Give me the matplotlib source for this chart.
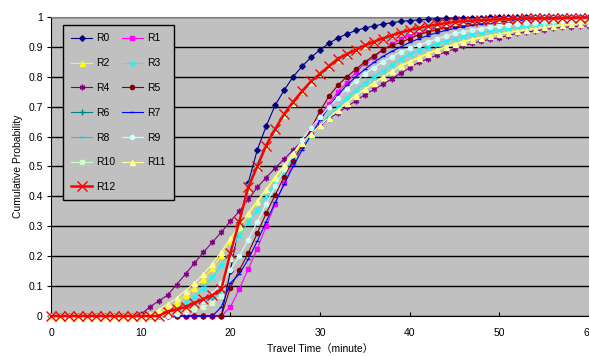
import matplotlib
matplotlib.use("Agg")
import matplotlib.pyplot as plt

plt.rcParams['font.family'] = ['Liberation Sans', 'Noto Sans CJK SC', 'DejaVu Sans']

# travel time in minutes (x axis)
minutes = list(range(61))

# cumulative probability of each route at each minute
r0 = [0, 0, 0, 0, 0, 0, 0, 0, 0, 0,
      0, 0, 0, 0, 0, 0, 0, 0, 0, 0,
      0.15, 0.31, 0.445, 0.555, 0.635, 0.705, 0.755, 0.80, 0.835, 0.865,
      0.89, 0.912, 0.93, 0.943, 0.955, 0.963, 0.97, 0.976, 0.981, 0.985,
      0.988, 0.99, 0.992, 0.994, 0.995, 0.996, 0.997, 0.998, 0.998, 0.999,
      0.999, 1, 1, 1, 1, 1, 1, 1, 1, 1,
      1]
r1 = [0, 0, 0, 0, 0, 0, 0, 0, 0, 0,
      0, 0, 0, 0, 0, 0, 0, 0, 0, 0,
      0.03, 0.09, 0.157, 0.225, 0.30, 0.375, 0.445, 0.51, 0.565, 0.625,
      0.67, 0.71, 0.75, 0.78, 0.815, 0.845, 0.865, 0.89, 0.91, 0.925,
      0.94, 0.95, 0.96, 0.967, 0.973, 0.978, 0.982, 0.985, 0.988, 0.99,
      0.992, 0.993, 0.994, 0.995, 0.996, 0.996, 0.997, 0.997, 0.998, 0.998,
      0.998]
r2 = [0, 0, 0, 0, 0, 0, 0, 0, 0, 0,
      0, 0, 0.01, 0.025, 0.045, 0.07, 0.095, 0.125, 0.16, 0.205,
      0.25, 0.295, 0.34, 0.38, 0.42, 0.46, 0.50, 0.54, 0.575, 0.61,
      0.64, 0.665, 0.69, 0.715, 0.74, 0.76, 0.78, 0.80, 0.82, 0.84,
      0.852, 0.866, 0.879, 0.891, 0.901, 0.911, 0.919, 0.926, 0.933, 0.939,
      0.945, 0.95, 0.955, 0.959, 0.963, 0.967, 0.971, 0.974, 0.977, 0.98,
      0.983]
r3 = [0, 0, 0, 0, 0, 0, 0, 0, 0, 0,
      0, 0, 0, 0.01, 0.025, 0.045, 0.065, 0.095, 0.13, 0.17,
      0.22, 0.27, 0.315, 0.355, 0.40, 0.44, 0.485, 0.525, 0.565, 0.605,
      0.64, 0.67, 0.70, 0.73, 0.755, 0.78, 0.80, 0.82, 0.84, 0.86,
      0.875, 0.888, 0.90, 0.91, 0.92, 0.928, 0.935, 0.942, 0.948, 0.953,
      0.958, 0.962, 0.966, 0.97, 0.973, 0.976, 0.979, 0.981, 0.983, 0.985,
      0.987]
r4 = [0, 0, 0, 0, 0, 0, 0, 0, 0, 0,
      0.005, 0.03, 0.05, 0.07, 0.105, 0.14, 0.177, 0.213, 0.247, 0.28,
      0.317, 0.35, 0.39, 0.43, 0.463, 0.495, 0.525, 0.555, 0.585, 0.613,
      0.638, 0.66, 0.68, 0.70, 0.72, 0.74, 0.758, 0.775, 0.793, 0.812,
      0.83, 0.848, 0.86, 0.872, 0.883, 0.893, 0.903, 0.912, 0.92, 0.925,
      0.931, 0.938, 0.945, 0.949, 0.953, 0.958, 0.962, 0.965, 0.967, 0.969,
      0.97]
r5 = [0, 0, 0, 0, 0, 0, 0, 0, 0, 0,
      0, 0, 0, 0, 0, 0, 0, 0, 0, 0,
      0.095, 0.153, 0.21, 0.277, 0.343, 0.405, 0.465, 0.52, 0.57, 0.627,
      0.685, 0.735, 0.772, 0.80, 0.825, 0.85, 0.87, 0.89, 0.905, 0.915,
      0.928, 0.94, 0.95, 0.958, 0.965, 0.971, 0.976, 0.98, 0.983, 0.986,
      0.988, 0.99, 0.991, 0.992, 0.993, 0.994, 0.995, 0.995, 0.996, 0.996,
      0.997]
r6 = [0, 0, 0, 0, 0, 0, 0, 0, 0, 0,
      0, 0, 0, 0.01, 0.02, 0.03, 0.04, 0.052, 0.065, 0.085,
      0.20, 0.31, 0.425, 0.50, 0.568, 0.622, 0.672, 0.713, 0.75, 0.783,
      0.808, 0.834, 0.858, 0.874, 0.888, 0.903, 0.915, 0.926, 0.936, 0.946,
      0.954, 0.961, 0.967, 0.973, 0.977, 0.981, 0.984, 0.986, 0.988, 0.989,
      0.99, 0.991, 0.992, 0.993, 0.994, 0.995, 0.995, 0.996, 0.996, 0.997,
      0.997]
r7 = [0, 0, 0, 0, 0, 0, 0, 0, 0, 0,
      0, 0, 0, 0, 0, 0, 0, 0, 0, 0.03,
      0.11, 0.14, 0.19, 0.25, 0.315, 0.38, 0.44, 0.50, 0.555, 0.605,
      0.655, 0.70, 0.74, 0.772, 0.80, 0.825, 0.848, 0.868, 0.885, 0.90,
      0.915, 0.927, 0.938, 0.947, 0.955, 0.962, 0.968, 0.973, 0.977, 0.981,
      0.984, 0.986, 0.988, 0.99, 0.991, 0.992, 0.993, 0.994, 0.995, 0.995,
      0.996]
r8 = [0, 0, 0, 0, 0, 0, 0, 0, 0, 0,
      0, 0, 0, 0.01, 0.02, 0.03, 0.04, 0.05, 0.06, 0.08,
      0.20, 0.31, 0.44, 0.51, 0.575, 0.625, 0.672, 0.712, 0.748, 0.78,
      0.805, 0.83, 0.853, 0.87, 0.885, 0.90, 0.912, 0.923, 0.933, 0.943,
      0.951, 0.958, 0.964, 0.97, 0.975, 0.979, 0.982, 0.985, 0.987, 0.988,
      0.99, 0.991, 0.992, 0.993, 0.994, 0.994, 0.995, 0.995, 0.996, 0.996,
      0.997]
r9 = [0, 0, 0, 0, 0, 0, 0, 0, 0, 0,
      0, 0, 0, 0, 0.005, 0.015, 0.03, 0.05, 0.075, 0.11,
      0.155, 0.20, 0.255, 0.315, 0.375, 0.435, 0.49, 0.54, 0.59, 0.63,
      0.665, 0.70, 0.73, 0.76, 0.785, 0.81, 0.83, 0.85, 0.867, 0.883,
      0.895, 0.906, 0.916, 0.926, 0.936, 0.945, 0.951, 0.956, 0.961, 0.966,
      0.97, 0.973, 0.976, 0.979, 0.981, 0.983, 0.985, 0.987, 0.988, 0.989,
      0.99]
r10 = [0, 0, 0, 0, 0, 0, 0, 0, 0, 0,
       0, 0, 0, 0.005, 0.01, 0.02, 0.025, 0.03, 0.045, 0.067,
       0.19, 0.30, 0.42, 0.495, 0.565, 0.62, 0.67, 0.71, 0.748, 0.78,
       0.808, 0.833, 0.857, 0.874, 0.889, 0.903, 0.915, 0.926, 0.936, 0.946,
       0.954, 0.961, 0.967, 0.973, 0.977, 0.981, 0.984, 0.987, 0.989, 0.99,
       0.991, 0.992, 0.993, 0.994, 0.995, 0.995, 0.996, 0.996, 0.997, 0.997,
       0.998]
r11 = [0, 0, 0, 0, 0, 0, 0, 0, 0, 0,
       0, 0.005, 0.02, 0.04, 0.06, 0.085, 0.11, 0.14, 0.175, 0.215,
       0.26, 0.30, 0.345, 0.385, 0.425, 0.465, 0.505, 0.545, 0.58, 0.61,
       0.638, 0.663, 0.688, 0.712, 0.737, 0.758, 0.778, 0.798, 0.818, 0.836,
       0.849, 0.863, 0.876, 0.888, 0.899, 0.909, 0.917, 0.924, 0.931, 0.937,
       0.943, 0.948, 0.953, 0.957, 0.961, 0.965, 0.969, 0.972, 0.975, 0.978,
       0.981]
r12 = [0, 0, 0, 0, 0, 0, 0, 0, 0, 0,
       0, 0, 0, 0.015, 0.022, 0.03, 0.044, 0.057, 0.07, 0.09,
       0.21, 0.315, 0.43, 0.50, 0.57, 0.625, 0.675, 0.716, 0.752, 0.785,
       0.81, 0.836, 0.86, 0.876, 0.89, 0.905, 0.917, 0.928, 0.938, 0.948,
       0.956, 0.963, 0.969, 0.975, 0.979, 0.983, 0.986, 0.988, 0.99, 0.991,
       0.992, 0.993, 0.994, 0.995, 0.995, 0.996, 0.996, 0.997, 0.997, 0.998,
       0.998]

labels = ['R0', 'R1', 'R2', 'R3', 'R4', 'R5', 'R6', 'R7', 'R8', 'R9', 'R10', 'R11', 'R12']
series = [r0, r1, r2, r3, r4, r5, r6, r7, r8, r9, r10, r11, r12]
colors = ['#000080', '#FF00FF', '#FFFF00', '#00FFFF', '#800080', '#800000', '#008080',
          '#0000FF', '#00CCFF', '#CCFFFF', '#CCFFCC', '#FFFF99', '#FF0000']
markers = ['D', 's', '^', 'x', (6, 2, 0), 'o', '+', '_', '_', 'o', 's', '^', 'x']
msizes = [2.8, 3.2, 3.6, 3.6, 4, 3.0, 4, 3.2, 4, 3.0, 3.2, 3.6, 6.5]

fig = plt.figure(figsize=(5.89, 3.56), dpi=100)
ax = fig.add_axes([0.0866, 0.1124, 0.9134, 0.8399])
ax.set_facecolor('#C0C0C0')

lines = []
for i in range(len(series)):
    lw = 1.8 if labels[i] == 'R12' else 0.8
    ln, = ax.plot(minutes, series[i], color=colors[i], marker=markers[i], markersize=msizes[i],
                  markeredgewidth=1.0, linewidth=lw, label=labels[i], clip_on=False, zorder=3 + i)
    lines.append(ln)

ax.set_xlim(0, 60)
ax.set_ylim(0, 1)
ax.set_xticks(range(0, 61, 10))
ax.set_yticks([i / 10 for i in range(11)])
ax.set_yticklabels(['0', '0.1', '0.2', '0.3', '0.4', '0.5', '0.6', '0.7', '0.8', '0.9', '1'])
ax.yaxis.grid(True, color='black', linewidth=1.0)
ax.set_axisbelow(True)
ax.tick_params(axis='x', direction='in', length=3, labelsize=7.5, pad=9)
ax.tick_params(axis='y', direction='out', length=3, labelsize=7.5, pad=3)

ax.spines['top'].set_color('#808080')
ax.spines['right'].set_visible(False)
ax.spines['left'].set_color('black')
ax.spines['bottom'].set_color('black')

ax.set_xlabel('Travel Time（minute）', fontsize=7.5, labelpad=4)
ax.set_ylabel('Cumulative Probability', fontsize=7.5, labelpad=4)

# legend reads row by row: R0 R1 / R2 R3 / ...
order = [0, 2, 4, 6, 8, 10, 12, 1, 3, 5, 7, 9, 11]
leg = ax.legend([lines[k] for k in order], [labels[k] for k in order],
                loc='upper left', bbox_to_anchor=(0.022, 0.973), borderaxespad=0,
                ncol=2, fontsize=7.5, frameon=True, fancybox=False, edgecolor='black',
                facecolor='#C0C0C0', framealpha=1, labelspacing=1.42, handlelength=2.0,
                handletextpad=0.4, columnspacing=0.6, borderpad=0.8)
leg.get_frame().set_linewidth(1.0)
leg.set_zorder(30)

fig.savefig('out.png', dpi=100)
